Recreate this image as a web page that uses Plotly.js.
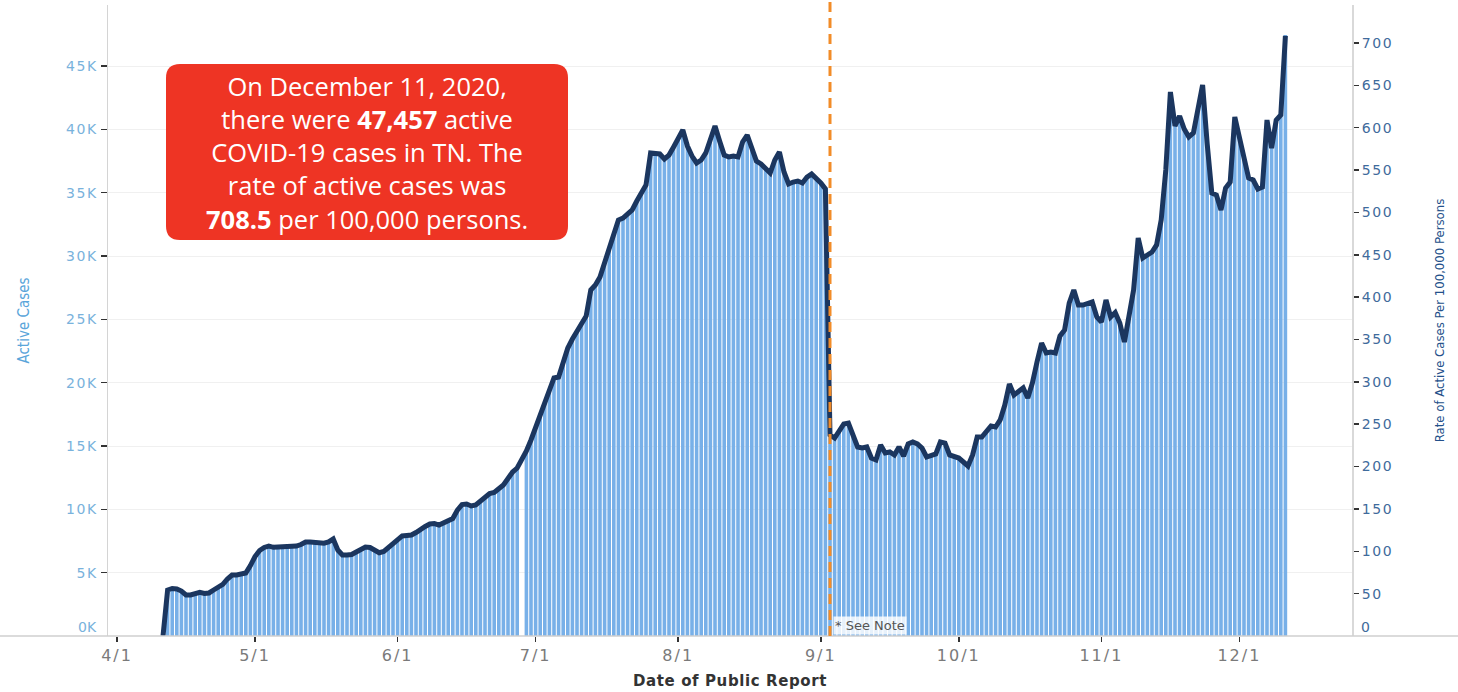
<!DOCTYPE html>
<html>
<head>
<meta charset="utf-8">
<script src="https://cdn.plot.ly/plotly-3.0.1.min.js"></script>
<style>
  html, body { margin:0; padding:0; background:#fff; }
  #chart { width:1458px; height:692px; }
  .xtick text { letter-spacing: 2px; }
  .ytick text, .y2tick text { letter-spacing: 1.6px; }
  .g-xtitle text { letter-spacing: 0.6px; }
</style>
</head>
<body>
<div id="chart"></div>
<script>
// ---------------- DATA ----------------
const firstDate = '2020-04-11';   // daily series, one value per day to 2020-12-11

const activeCases = [
  0, 3632, 3750, 3711, 3553, 3237, 3237, 3316, 3450, 3355,
  3395, 3632, 3829, 4082, 4500, 4816, 4816, 4855, 4974, 5566,
  6277, 6750, 6987, 7106, 7003, 7027, 7027, 7050, 7066, 7106,
  7224, 7421, 7421, 7398, 7319, 7326, 7421, 7658, 6790, 6395,
  6395, 6434, 6632, 6829, 7027, 6987, 6750, 6577, 6671, 6987,
  7263, 7540, 7895, 7934, 7974, 8171, 8448, 8645, 8842, 8882,
  8763, 8921, 9079, 9277, 9948, 10382, 10421, 10264, 10342, 10658,
  11053, 11250, 11329, 11606, 11921, 12435, 12948, 13264, null, 14606,
  15474, 16422, 17369, 18316, 19422, 20369, 20448, 21632, 22738, 23448,
  24080, 24790, 25264, 27317, 27711, 28343, 29527, 30633, 31896, 32843,
  33001, 33317, 33633, 34343, 34896, 35606, 38133, 38133, 38054, 37659,
  37975, 38607, 39317, 39949, 38686, 37896, 37343, 37580, 38133, 39317,
  40265, 39080, 37975, 37817, 37896, 37817, 39001, 39554, 38370, 37501,
  37264, 36870, 36554, 37580, 38212, 36633, 35685, 35843, 35922, 35764,
  36238, 36475, 36159, 35764, 35291, 15869, 15632, 16264, 16737, 16816,
  15711, 14922, 14843, 14922, 14053, 13895, 15079, 14448, 14527, 14290,
  14922, 14211, 15158, 15316, 15158, 14843, 14132, 14211, 14369, 15316,
  15237, 14290, 14132, 14053, 13737, 13422, 14290, 15711, 15711, 16185,
  16580, 16501, 17053, 18237, 19895, 19027, 19343, 19580, 18790, 19974,
  21632, 23132, 22343, 22422, 22343, 23685, 24159, 26290, 27317, 26132,
  26132, 26211, 26369, 25185, 24790, 26527, 25185, 25540, 24711, 23211,
  25185, 27317, 31422, 29843, 30080, 30317, 30869, 32843, 36791, 42949,
  40265, 41054, 40028, 39396, 39712, 41528, 43501, 38843, 34975, 34817,
  33633, 35370, 35843, 40975, 39396, 37817, 36159, 36001, 35291, 35449,
  40738, 38528, 40738, 41133, 47457
];

const ratePer100k = [
  0, 54.3, 56.1, 55.5, 53.1, 48.4, 48.4, 49.6, 51.6, 50.2,
  50.8, 54.3, 57.3, 61.0, 67.3, 72.0, 72.0, 72.6, 74.4, 83.2,
  93.8, 100.9, 104.5, 106.2, 104.7, 105.1, 105.1, 105.4, 105.7, 106.2,
  108.0, 111.0, 111.0, 110.6, 109.4, 109.5, 111.0, 114.5, 101.5, 95.6,
  95.6, 96.2, 99.2, 102.1, 105.1, 104.5, 100.9, 98.3, 99.8, 104.5,
  108.6, 112.7, 118.1, 118.6, 119.2, 122.2, 126.3, 129.3, 132.2, 132.8,
  131.0, 133.4, 135.8, 138.7, 148.7, 155.2, 155.8, 153.5, 154.6, 159.4,
  165.3, 168.2, 169.4, 173.5, 178.3, 185.9, 193.6, 198.3, 207.8, 218.4,
  231.4, 245.5, 259.7, 273.9, 290.4, 304.6, 305.7, 323.5, 340.0, 350.6,
  360.1, 370.7, 377.8, 408.5, 414.4, 423.8, 441.5, 458.0, 476.9, 491.1,
  493.4, 498.2, 502.9, 513.5, 521.8, 532.4, 570.2, 570.2, 569.0, 563.1,
  567.8, 577.3, 587.9, 597.3, 578.4, 566.6, 558.4, 561.9, 570.2, 587.9,
  602.1, 584.3, 567.8, 565.5, 566.6, 565.5, 583.2, 591.4, 573.7, 560.7,
  557.2, 551.3, 546.6, 561.9, 571.4, 547.8, 533.6, 535.9, 537.1, 534.8,
  541.8, 545.4, 540.7, 534.8, 527.7, 237.3, 233.7, 243.2, 250.3, 251.4,
  234.9, 223.1, 221.9, 223.1, 210.1, 207.8, 225.5, 216.0, 217.2, 213.7,
  223.1, 212.5, 226.7, 229.0, 226.7, 221.9, 211.3, 212.5, 214.9, 229.0,
  227.8, 213.7, 211.3, 210.1, 205.4, 200.7, 213.7, 234.9, 234.9, 242.0,
  247.9, 246.7, 255.0, 272.7, 297.5, 284.5, 289.2, 292.8, 281.0, 298.7,
  323.5, 345.9, 334.1, 335.3, 334.1, 354.2, 361.2, 393.1, 408.5, 390.7,
  390.7, 391.9, 394.3, 376.6, 370.7, 396.7, 376.6, 381.9, 369.5, 347.1,
  376.6, 408.5, 469.8, 446.2, 449.8, 453.3, 461.6, 491.1, 550.1, 642.2,
  602.1, 613.9, 598.5, 589.1, 593.8, 620.9, 650.5, 580.8, 523.0, 520.6,
  502.9, 528.9, 535.9, 612.7, 589.1, 565.5, 540.7, 538.3, 527.7, 530.0,
  609.1, 576.1, 609.1, 615.0, 708.5
];

const monthTickDates  = ['2020-04-01','2020-05-01','2020-06-01','2020-07-01','2020-08-01','2020-09-01','2020-10-01','2020-11-01','2020-12-01'];
const monthTickLabels = ['4/1','5/1','6/1','7/1','8/1','9/1','10/1','11/1','12/1'];

const casesTickVals   = [5000,10000,15000,20000,25000,30000,35000,40000,45000];
const casesTickLabels = ['5K','10K','15K','20K','25K','30K','35K','40K','45K'];

const rateTickVals   = [50,100,150,200,250,300,350,400,450,500,550,600,650,700];
const rateTickLabels = ['50','100','150','200','250','300','350','400','450','500','550','600','650','700'];

const noteDate = '2020-09-03';
const calloutLines = [
  'On December 11, 2020,',
  'there were <b>47,457</b> active',
  'COVID-19 cases in TN. The',
  'rate of active cases was',
  '<b>708.5</b> per 100,000 persons.'
];

// ---------------- BUILD ----------------
function buildDates(start, n) {
  const out = [];
  const t0 = Date.parse(start + 'T00:00:00Z');
  for (let i = 0; i < n; i++) {
    out.push(new Date(t0 + i * 86400000).toISOString().slice(0, 10));
  }
  return out;
}
const dates = buildDates(firstDate, activeCases.length);

const W = 1458, H = 692;
const M = { l: 108, r: 106, t: 5, b: 56 };
const PW = W - M.l - M.r, PH = H - M.t - M.b;
const px = x => (x - M.l) / PW;           // pixel -> paper x
const py = y => (H - M.b - y) / PH;       // pixel -> paper y

function roundRect(x0p, y0p, x1p, y1p, r) {
  const a = px(x0p), b = px(x1p), top = py(y0p), bot = py(y1p);
  const rx = r / PW, ry = r / PH;
  return `M ${a + rx},${top} L ${b - rx},${top} Q ${b},${top} ${b},${top - ry} ` +
         `L ${b},${bot + ry} Q ${b},${bot} ${b - rx},${bot} ` +
         `L ${a + rx},${bot} Q ${a},${bot} ${a},${bot + ry} ` +
         `L ${a},${top - ry} Q ${a},${top} ${a + rx},${top} Z`;
}

const narrow = '"Liberation Sans Narrow", "DejaVu Sans Condensed", "Roboto Condensed", "Liberation Sans", sans-serif';

const traces = [
  {
    type: 'bar', x: dates, y: activeCases, yaxis: 'y',
    marker: { color: '#78b0e8', line: { width: 0 } },
    hoverinfo: 'skip'
  },
  {
    type: 'scatter', mode: 'lines', x: dates, y: ratePer100k, yaxis: 'y2',
    line: { color: '#1b365f', width: 5 },
    hoverinfo: 'skip'
  }
];

const layout = {
  width: W, height: H,
  margin: M,
  paper_bgcolor: '#ffffff', plot_bgcolor: '#ffffff',
  showlegend: false,
  bargap: 0.22,
  font: { family: '"DejaVu Sans", sans-serif', color: '#555' },
  xaxis: {
    type: 'date',
    range: ['2020-03-30 01:00', '2020-12-25 11:30'],
    tickmode: 'array', tickvals: monthTickDates, ticktext: monthTickLabels,
    ticks: 'outside', ticklen: 5, tickwidth: 1.5, tickcolor: '#333',
    tickfont: { size: 16, color: '#7a7a7a', family: '"DejaVu Sans", sans-serif' },
    showgrid: false, zeroline: false, showline: false,
    title: { text: '<b>Date of Public Report</b>', font: { size: 15, color: '#333', family: '"DejaVu Sans", sans-serif' }, standoff: 11 }
  },
  yaxis: {
    range: [0, 49816],
    tickmode: 'array', tickvals: casesTickVals, ticktext: casesTickLabels,
    ticks: 'outside', ticklen: 6, tickwidth: 1.5, tickcolor: '#333',
    tickfont: { size: 14, color: '#79b2dc', family: '"DejaVu Sans", sans-serif' },
    showgrid: true, gridcolor: '#f0f0f0', gridwidth: 1,
    zeroline: false, showline: true, linecolor: '#d4d4d4', linewidth: 1.5,
    title: { text: 'Active Cases', font: { size: 15, color: '#5aa5da', family: narrow }, standoff: 32 }
  },
  yaxis2: {
    overlaying: 'y', side: 'right',
    range: [0, 744.9],
    tickmode: 'array', tickvals: rateTickVals, ticktext: rateTickLabels,
    ticks: 'outside', ticklen: 5, tickwidth: 1.5, tickcolor: '#333',
    tickfont: { size: 14, color: '#3f6b9c', family: '"DejaVu Sans", sans-serif' },
    showgrid: false, zeroline: false, showline: true, linecolor: '#d9d9d9', linewidth: 2,
    title: { text: 'Rate of Active Cases Per 100,000 Persons', font: { size: 13, color: '#23508a', family: narrow }, standoff: 43 }
  },
  shapes: [
    { type: 'line', xref: 'paper', yref: 'paper', x0: px(0), x1: px(W), y0: 0, y1: 0,
      line: { color: '#cfcfcf', width: 1.5 }, layer: 'above' },
    { type: 'line', xref: 'x', yref: 'paper', x0: noteDate, x1: noteDate, y0: 0, y1: 1.005,
      line: { color: '#f28c28', width: 3, dash: '10px,6px' }, layer: 'above' },
    { type: 'path', xref: 'paper', yref: 'paper', path: roundRect(166, 64, 568, 240, 14),
      fillcolor: '#ee3424', line: { width: 0 }, layer: 'above' }
  ],
  annotations: [
    { xref: 'paper', yref: 'paper', x: px(367), y: py(152), xanchor: 'center', yanchor: 'middle',
      text: calloutLines.join('<br>'), showarrow: false, align: 'center',
      font: { family: '"Open Sans", sans-serif', size: 25.5, color: '#ffffff' } },
    { xref: 'paper', yref: 'paper', x: 0, y: py(627), xanchor: 'right', yanchor: 'middle', xshift: -9,
      text: '0K', showarrow: false, font: { size: 14, color: '#79b2dc', family: '"DejaVu Sans", sans-serif' } },
    { xref: 'paper', yref: 'paper', x: 1, y: py(627), xanchor: 'left', yanchor: 'middle', xshift: 7,
      text: '0', showarrow: false, font: { size: 14, color: '#3f6b9c', family: '"DejaVu Sans", sans-serif' } },
    { xref: 'x', yref: 'paper', x: noteDate, y: 0, xanchor: 'left', yanchor: 'bottom', xshift: 3, yshift: 1,
      text: '* See Note', showarrow: false, bgcolor: 'rgba(255,255,255,0.82)', borderpad: 1,
      font: { size: 13, color: '#555', family: '"DejaVu Sans", sans-serif' } }
  ]
};

Plotly.newPlot('chart', traces, layout, { staticPlot: true, displayModeBar: false });
</script>
</body>
</html>
